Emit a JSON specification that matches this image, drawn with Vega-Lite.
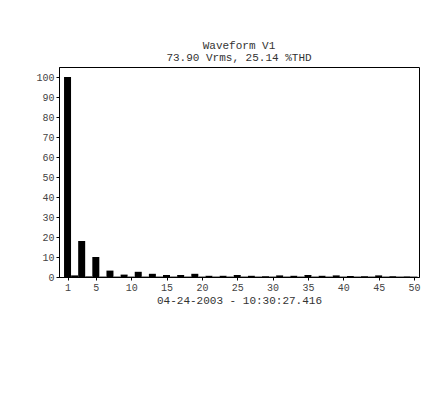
{
  "$schema": "https://vega.github.io/schema/vega-lite/v6.json",
  "width": 360,
  "height": 210,
  "padding": {"left": 35, "top": 40, "right": 25, "bottom": 10},
  "background": "white",
  "title": {
    "text": "Waveform V1",
    "subtitle": "73.90 Vrms, 25.14 %THD",
    "font": "Liberation Mono",
    "subtitleFont": "Liberation Mono",
    "fontSize": 11,
    "subtitleFontSize": 11,
    "fontWeight": "normal",
    "color": "#333",
    "subtitleColor": "#333",
    "subtitlePadding": 1,
    "offset": 4
  },
  "data": {
    "values": [
      {"h": 1, "pct": 100}, {"h": 2, "pct": 0.8}, {"h": 3, "pct": 18}, {"h": 4, "pct": 0.3},
      {"h": 5, "pct": 10}, {"h": 6, "pct": 0.2}, {"h": 7, "pct": 3.2}, {"h": 8, "pct": 0.2},
      {"h": 9, "pct": 1.2}, {"h": 10, "pct": 0.2}, {"h": 11, "pct": 2.6}, {"h": 12, "pct": 0.2},
      {"h": 13, "pct": 1.6}, {"h": 14, "pct": 0.2}, {"h": 15, "pct": 1.0}, {"h": 16, "pct": 0.2},
      {"h": 17, "pct": 1.0}, {"h": 18, "pct": 0.2}, {"h": 19, "pct": 1.6}, {"h": 20, "pct": 0.2},
      {"h": 21, "pct": 0.6}, {"h": 22, "pct": 0.2}, {"h": 23, "pct": 0.6}, {"h": 24, "pct": 0.2},
      {"h": 25, "pct": 1.0}, {"h": 26, "pct": 0.2}, {"h": 27, "pct": 0.6}, {"h": 28, "pct": 0.2},
      {"h": 29, "pct": 0.4}, {"h": 30, "pct": 0.2}, {"h": 31, "pct": 0.8}, {"h": 32, "pct": 0.2},
      {"h": 33, "pct": 0.6}, {"h": 34, "pct": 0.2}, {"h": 35, "pct": 1.0}, {"h": 36, "pct": 0.2},
      {"h": 37, "pct": 0.6}, {"h": 38, "pct": 0.2}, {"h": 39, "pct": 0.8}, {"h": 40, "pct": 0.2},
      {"h": 41, "pct": 0.5}, {"h": 42, "pct": 0.2}, {"h": 43, "pct": 0.4}, {"h": 44, "pct": 0.2},
      {"h": 45, "pct": 0.8}, {"h": 46, "pct": 0.2}, {"h": 47, "pct": 0.4}, {"h": 48, "pct": 0.2},
      {"h": 49, "pct": 0.3}, {"h": 50, "pct": 0.2}
    ]
  },
  "mark": {"type": "bar", "color": "black", "width": 7},
  "encoding": {
    "x": {
      "field": "h",
      "type": "quantitative",
      "scale": {"domain": [0.5, 50]},
      "axis": {
        "values": [1, 5, 10, 15, 20, 25, 30, 35, 40, 45, 50],
        "title": "04-24-2003 - 10:30:27.416",
        "titleFont": "Liberation Mono",
        "titleFontWeight": "normal",
        "titleFontSize": 11,
        "titleColor": "#333",
        "titlePadding": 2,
        "labelFont": "Liberation Mono",
        "labelFontSize": 10,
        "labelColor": "#444",
        "grid": false,
        "domainColor": "black",
        "tickColor": "black",
        "tickSize": 3
      }
    },
    "y": {
      "field": "pct",
      "type": "quantitative",
      "scale": {"domain": [0, 105]},
      "axis": {
        "values": [0, 10, 20, 30, 40, 50, 60, 70, 80, 90, 100],
        "title": null,
        "labelFont": "Liberation Mono",
        "labelFontSize": 10,
        "labelColor": "#444",
        "grid": false,
        "domainColor": "black",
        "tickColor": "black",
        "tickSize": 3
      }
    }
  },
  "config": {
    "view": {"stroke": "black", "strokeWidth": 1}
  }
}
